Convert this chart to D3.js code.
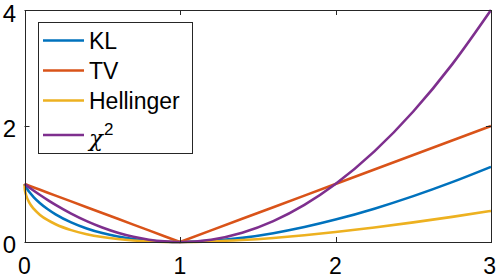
<!DOCTYPE html>
<html><head><meta charset="utf-8">
<script src="https://cdn.jsdelivr.net/npm/d3@7"></script>
<style>body{margin:0;background:#fff}svg{display:block}text{font-family:"Liberation Sans",Arial,Helvetica,sans-serif}</style>
</head><body>
<svg id="chart" width="498" height="279"></svg>
<script>
const tValues = [0, 0.002, 0.005, 0.01, 0.03, 0.06, 0.1, 0.15, 0.2, 0.3, 0.4, 0.5, 0.6, 0.7, 0.8, 0.9, 1.0, 1.2, 1.4, 1.6, 1.8, 2.0, 2.25, 2.5, 2.75, 3.0];
const klValues = [1, 0.9856, 0.9685, 0.9439, 0.8648, 0.7712, 0.6697, 0.5654, 0.4781, 0.3388, 0.2335, 0.1534, 0.0935, 0.0503, 0.0215, 0.0052, 0, 0.0188, 0.0711, 0.1520, 0.2580, 0.3863, 0.5746, 0.7907, 1.0319, 1.2958];
const tvValues = [1, 0.998, 0.995, 0.99, 0.97, 0.94, 0.9, 0.85, 0.8, 0.7, 0.6, 0.5, 0.4, 0.3, 0.2, 0.1, 0, 0.2, 0.4, 0.6, 0.8, 1.0, 1.25, 1.5, 1.75, 2.0];
const hellingerValues = [1, 0.9126, 0.8636, 0.81, 0.6836, 0.5701, 0.4675, 0.3754, 0.3056, 0.2046, 0.1351, 0.0858, 0.0508, 0.0267, 0.0111, 0.0026, 0, 0.0091, 0.0336, 0.0702, 0.1167, 0.1716, 0.25, 0.3377, 0.4334, 0.5359];
const chi2Values = [1, 0.996, 0.990, 0.9801, 0.9409, 0.8836, 0.81, 0.7225, 0.64, 0.49, 0.36, 0.25, 0.16, 0.09, 0.04, 0.01, 0, 0.04, 0.16, 0.36, 0.64, 1.0, 1.5625, 2.25, 3.0625, 4.0];
const seriesNames = ["KL", "TV", "Hellinger", "χ2"];
const xTicks = [0, 1, 2, 3];
const xTickLabels = ["0", "1", "2", "3"];
const yTicks = [0, 2, 4];
const yTickLabels = ["0", "2", "4"];

const colors = ["#0072BD", "#D95319", "#EDB120", "#7E2F8E"];
const series = [klValues, tvValues, hellingerValues, chi2Values];
const curves = [d3.curveMonotoneX, d3.curveLinear, d3.curveMonotoneX, d3.curveMonotoneX];

const W = 498;
const L = 24.5, R = 491, T = 10, B = 242;
const x = d3.scaleLinear().domain([0, 3]).range([L, R]);
const y = d3.scaleLinear().domain([0, 4]).range([B, T]);
const svg = d3.select("#chart");
const axisColor = "#262626";

// lines
series.forEach((vals, i) => {
  const line = d3.line().x((d, j) => x(tValues[j])).y(d => y(d)).curve(curves[i]);
  svg.append("path").datum(vals).attr("d", line)
    .attr("fill", "none").attr("stroke", colors[i]).attr("stroke-width", 2.6)
    .attr("stroke-linejoin", "round").attr("stroke-linecap", "butt");
});

// box
svg.append("rect").attr("x", Math.round(L) + 0.5).attr("y", T + 0.5)
  .attr("width", Math.round(R) - Math.round(L)).attr("height", B - T)
  .attr("fill", "none").attr("stroke", axisColor).attr("stroke-width", 1);

const tl = 5;
// x ticks (bottom and top, inward)
xTicks.forEach((t, i) => {
  const px = Math.round(x(t)) + 0.5;
  svg.append("line").attr("x1", px).attr("x2", px).attr("y1", B).attr("y2", B - tl).attr("stroke", axisColor);
  svg.append("line").attr("x1", px).attr("x2", px).attr("y1", T).attr("y2", T + tl).attr("stroke", axisColor);
  const last = i === xTicks.length - 1;
  svg.append("text").attr("x", last ? W - 2 : x(t)).attr("y", 274).attr("text-anchor", last ? "end" : "middle")
    .attr("font-size", 23).attr("fill", "#000").text(xTickLabels[i]);
});
yTicks.forEach((t, i) => {
  const py = Math.round(y(t)) + 0.5;
  svg.append("line").attr("x1", L).attr("x2", L + tl).attr("y1", py).attr("y2", py).attr("stroke", axisColor);
  svg.append("line").attr("x1", R).attr("x2", R - tl).attr("y1", py).attr("y2", py).attr("stroke", axisColor);
  svg.append("text").attr("x", 16).attr("y", Math.max(y(t) + 10.5, 22)).attr("text-anchor", "end")
    .attr("font-size", 24).attr("fill", "#000").text(yTickLabels[i]);
});

// legend
const lg = svg.append("g");
lg.append("rect").attr("x", 38.5).attr("y", 22.5).attr("width", 154).attr("height", 131)
  .attr("fill", "#fff").attr("stroke", axisColor).attr("stroke-width", 1);
const rowY = [40.5, 70.5, 100.5, 135];
seriesNames.forEach((name, i) => {
  lg.append("line").attr("x1", 43).attr("x2", 84).attr("y1", rowY[i]).attr("y2", rowY[i])
    .attr("stroke", colors[i]).attr("stroke-width", 2.6);
  const txt = lg.append("text").attr("x", 89).attr("y", rowY[i] + 8.5)
    .attr("font-size", 23).attr("fill", "#000");
  if (name === "χ2") {
    txt.append("tspan").attr("font-family", "DejaVu Serif, serif").attr("font-style", "italic").attr("y", rowY[i] + 11).text("χ");
    txt.append("tspan").attr("x", 104).attr("y", rowY[i]).attr("font-size", 17).text("2");
  } else {
    txt.text(name);
  }
});
</script>
</body></html>
